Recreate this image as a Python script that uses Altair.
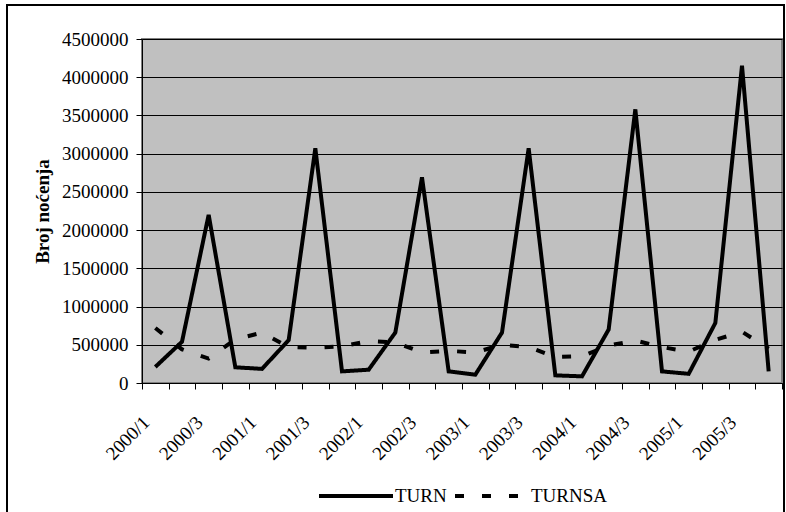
import altair as alt
import pandas as pd

quarters = [f"{y}/{q}" for y in range(2000, 2006) for q in range(1, 5)]
turn = [210000, 540000, 2200000, 205000, 185000, 560000, 3070000, 152000,
        174000, 660000, 2690000, 152000, 109000, 660000, 3070000, 100000,
        87000, 700000, 3580000, 152000, 120000, 785000, 4150000, 152000]
turnsa = [720000, 440000, 320000, 570000, 660000, 470000, 460000, 480000,
          550000, 530000, 400000, 420000, 400000, 500000, 470000, 340000,
          350000, 490000, 555000, 470000, 410000, 565000, 670000, 450000]
series = ["TURN", "TURNSA"]
y_ticks = list(range(0, 4500001, 500000))

rows = []
for i, q in enumerate(quarters):
    rows.append({"idx": i, "quarter": q, "series": "TURN", "value": turn[i]})
    rows.append({"idx": i, "quarter": q, "series": "TURNSA", "value": turnsa[i]})
df = pd.DataFrame(rows)

FONT = "Liberation Serif"
n = len(quarters)
tick_vals = [i - 0.5 for i in range(n + 1)]
lab_arr = "[" + ",".join("'" + q + "'" for q in quarters) + "]"
label_expr = (f"((datum.value + 0.5) % 2 == 0 && datum.value < {n - 1}) ? "
              f"{lab_arr}[datum.value + 0.5] : ''")

lines = alt.Chart(df).mark_line(color="black", strokeWidth=4, clip=False).encode(
    x=alt.X("idx:Q",
            scale=alt.Scale(domain=[-0.5, n - 0.5], nice=False, zero=False),
            axis=alt.Axis(values=tick_vals, labelExpr=label_expr, title=None,
                          grid=False, labelAngle=-45, labelAlign="right",
                          labelBaseline="middle", labelOffset=4,
                          labelPadding=30, tickSize=6, labelOverlap=False,
                          labelFlush=False, labelBound=False,
                          domainColor="black", tickColor="black",
                          labelFont=FONT, labelFontSize=19, labelColor="black")),
    y=alt.Y("value:Q",
            scale=alt.Scale(domain=[0, 4500000], nice=False),
            axis=alt.Axis(values=y_ticks, format="d", title="Broj noćenja",
                          titleFont=FONT, titleFontSize=19, titleFontWeight="bold",
                          titleColor="black", titleAngle=-90, titleX=-94, titleY=172,
                          titleAlign="center", titleBaseline="alphabetic",
                          grid=True, gridColor="black", gridWidth=1,
                          tickSize=6, labelPadding=8, domainColor="black",
                          tickColor="black", labelFont=FONT, labelFontSize=19,
                          labelColor="black")),
    strokeDash=alt.StrokeDash("series:N",
                              scale=alt.Scale(domain=series, range=[[1, 0], [9, 18]]),
                              legend=alt.Legend(title=None, orient="none",
                                                direction="horizontal",
                                                legendX=175, legendY=418,
                                                symbolType="stroke", symbolSize=5476,
                                                symbolStrokeWidth=4,
                                                symbolStrokeColor="black",
                                                labelFont=FONT, labelFontSize=19,
                                                labelColor="black", labelOffset=0,
                                                columnPadding=0, padding=0)),
    detail="series:N",
)

frame = alt.Chart(pd.DataFrame({"a": [0]})).mark_rect(
    fill=None, stroke="black", strokeWidth=2, clip=False
).encode(
    x=alt.value(-135), x2=alt.value(642), y=alt.value(-34), y2=alt.value(474)
)

chart = alt.layer(frame, lines).properties(
    width=640, height=344,
    autosize=alt.AutoSizeParams(type="none"),
    padding={"left": 142, "top": 39, "right": 4, "bottom": 129},
    background="white",
).configure_view(fill="#C0C0C0", stroke="#808080", strokeWidth=2)

chart.save("out.html", embed_options={"renderer": "svg", "actions": False})
